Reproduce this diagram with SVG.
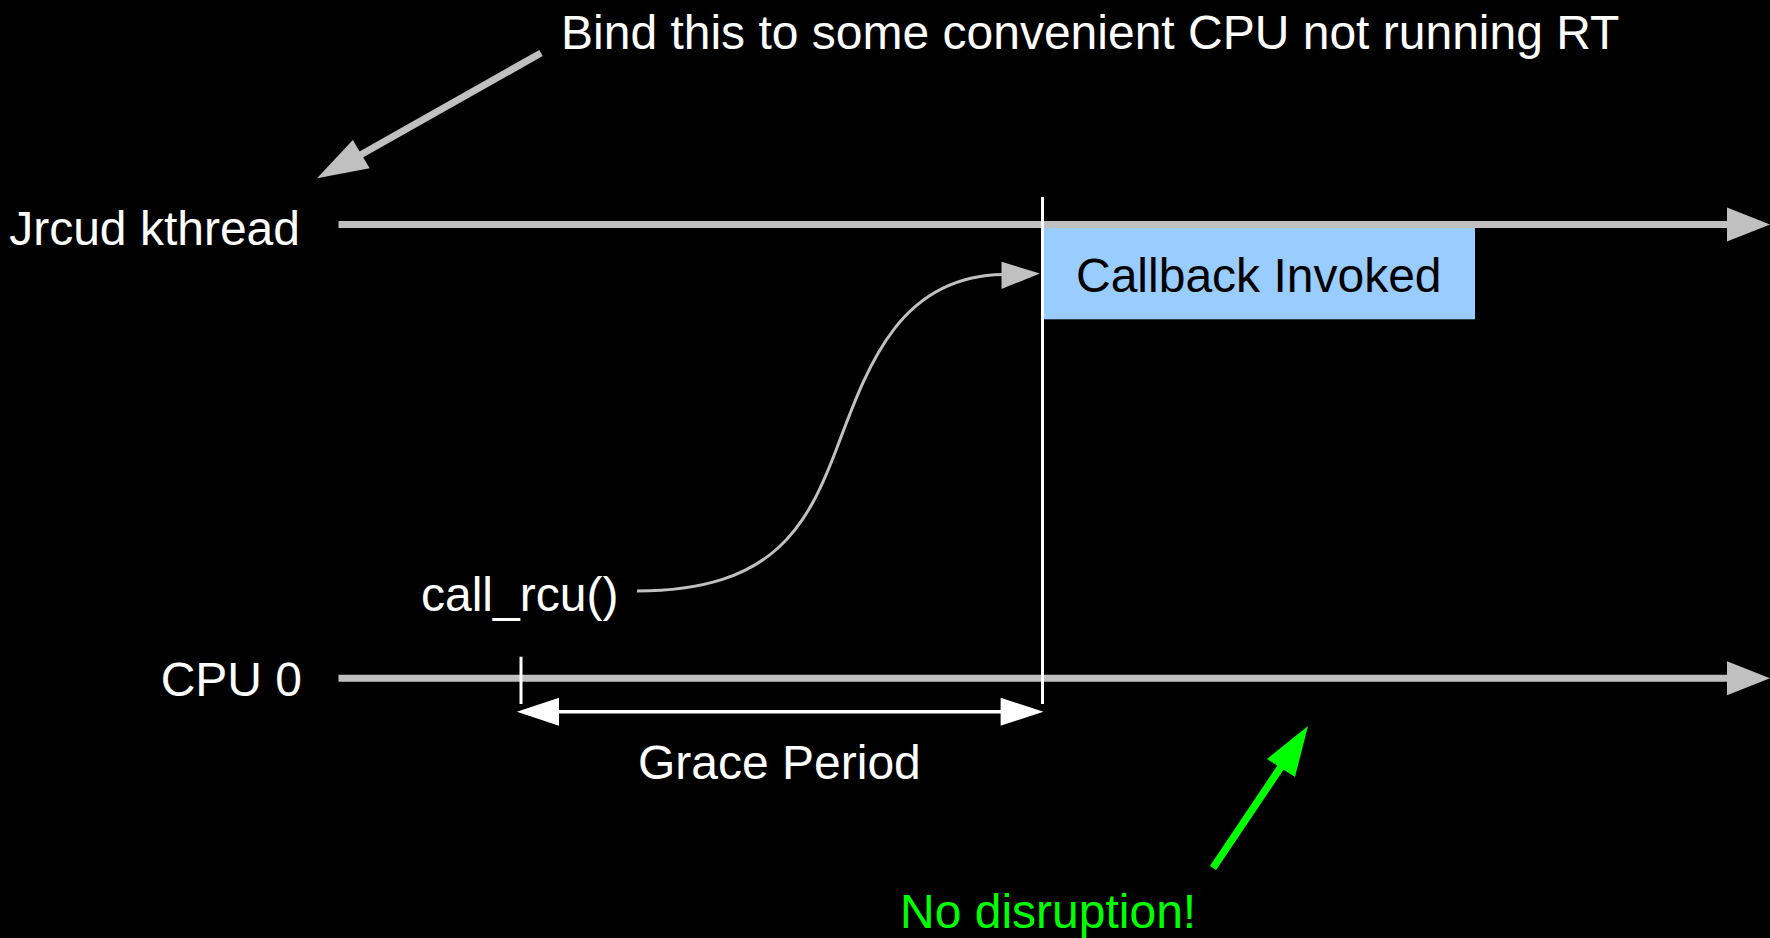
<svg xmlns="http://www.w3.org/2000/svg" width="1770" height="938" viewBox="0 0 1770 938">
<style>
text{font-family:"Liberation Sans",Arial,sans-serif;font-size:48px;fill:#ffffff}
.axis{stroke:#c0c0c0;stroke-width:7;fill:none}
.gray{fill:#c0c0c0}
</style>
<rect x="0" y="0" width="1770" height="938" fill="#000000"/>
<g id="connectors">
  <!-- Jrcud kthread axis -->
  <line class="axis" x1="338.5" y1="224.6" x2="1730" y2="224.6"/>
  <polygon class="gray" points="1727,207.6 1770,224.6 1727,241.6"/>
  <!-- CPU 0 axis -->
  <line class="axis" x1="338.5" y1="678.3" x2="1730" y2="678.3"/>
  <polygon class="gray" points="1727,661.3 1770,678.3 1727,695.3"/>
  <!-- Bind arrow -->
  <line class="axis" x1="541" y1="53" x2="355" y2="158"/>
  <polygon class="gray" points="317,178.3 352.8,140 369.7,168.3"/>
  <!-- call_rcu curve -->
  <path d="M 637 591 C 775 591 808 525 838 445 S 900 276 1003 274.5" stroke="#c0c0c0" stroke-width="3" fill="none"/>
  <polygon class="gray" points="1040,273.5 1001.5,261.7 1001.5,289"/>
  <!-- grace period -->
  <line x1="521" y1="656.7" x2="521" y2="704" stroke="#ffffff" stroke-width="3"/>
  <line x1="1042.5" y1="197" x2="1042.5" y2="704" stroke="#ffffff" stroke-width="3"/>
  <line x1="555" y1="711.7" x2="1005" y2="711.7" stroke="#ffffff" stroke-width="3.5"/>
  <polygon fill="#ffffff" points="516.8,711.7 559,697.7 559,725.7"/>
  <polygon fill="#ffffff" points="1043.5,711.7 1000.6,697.7 1000.6,725.7"/>
  <!-- green arrow -->
  <line x1="1213" y1="868" x2="1285" y2="761" stroke="#00ff00" stroke-width="7.5"/>
  <polygon fill="#00ff00" points="1308,726 1267,759 1295,777"/>
</g>
<g id="bind-label"><text x="561" y="48.5">Bind this to some convenient CPU not running RT</text></g>
<g id="jrcud-label"><text x="300" y="245" text-anchor="end">Jrcud kthread</text></g>
<g id="cpu0-label"><text x="302" y="696" text-anchor="end">CPU 0</text></g>
<g id="callrcu-label"><text x="421" y="610.5">call_rcu()</text></g>
<g id="callback">
  <rect x="1044" y="228" width="431" height="91.3" fill="#99ccff"/>
  <text x="1076" y="291.7" style="fill:#000000">Callback Invoked</text>
</g>
<g id="grace-label"><text x="638" y="779">Grace Period</text></g>
<g id="nodisruption-label"><text x="900" y="928.3" style="fill:#00ff00">No disruption!</text></g>
</svg>
